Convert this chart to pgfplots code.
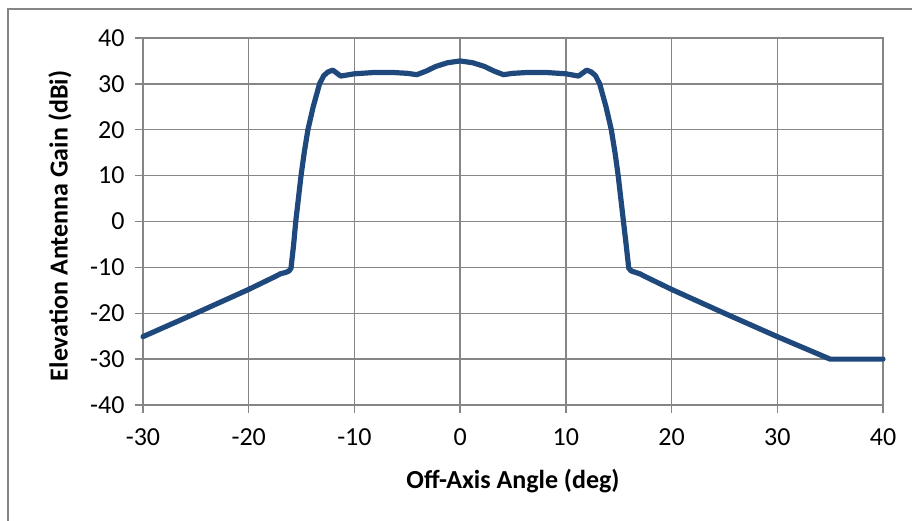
\documentclass[border=0pt]{standalone}
\usepackage{pgfplots}
\pgfplotsset{compat=1.18}
\usepackage{fontspec}
\setmainfont{Carlito}
\definecolor{gridgray}{RGB}{134,134,134}
\definecolor{lineblue}{RGB}{31,73,125}
\begin{document}
\begin{tikzpicture}[x=1pt,y=1pt]
\path[use as bounding box] (-143,-116) rectangle (769,405);
\draw[gridgray, line width=1.2pt] (-135,-116) -- (-135,396) -- (769,396);
\begin{axis}[at={(0,0)}, anchor=south west, scale only axis,
  width=740pt, height=367pt,
  xmin=-30, xmax=40, ymin=-40, ymax=40,
  xtick={-30,-20,...,40}, ytick={-40,-30,...,40},
  grid=major, grid style={gridgray, line width=1.3pt},
  axis line style={gridgray, line width=1.3pt},
  tick style={gridgray, line width=1.3pt},
  tick pos=left, tick align=outside, major tick length=8pt,
  /pgf/number format/assume math mode=true,
  tick label style={font=\fontsize{26}{30}\selectfont, text=black},
  xticklabel style={yshift=-12pt},
  yticklabel style={xshift=-7pt},
  clip=false]
\addplot[lineblue, line width=5.2pt, line join=round, line cap=round] coordinates {
(-30,-25.1) (-25,-20.0) (-20,-14.8) (-17.5,-12.0) (-17,-11.4) (-16.5,-11.1) (-16.2,-10.8) (-16.0,-10.2)
(-15.75,-5) (-15.55,0) (-15.3,5) (-15.05,10) (-14.75,15) (-14.4,20) (-13.9,25) (-13.3,30) (-12.9,31.8) (-12.5,32.6) (-12.05,33.0)
(-11.3,31.7) (-10,32.2) (-8,32.5) (-6.5,32.5) (-5,32.3) (-4.1,32.0) (-3.2,32.8) (-2.3,33.8) (-1.2,34.6) (0,35.0)
(1.2,34.6) (2.3,33.8) (3.2,32.8) (4.1,32.0) (5,32.3) (6.5,32.5) (8,32.5) (10,32.2) (11.2,31.7)
(11.97,33.0) (12.4,32.6) (12.8,31.8) (13.2,30) (13.8,25) (14.3,20) (14.65,15) (14.95,10) (15.2,5) (15.45,0) (15.7,-5) (15.95,-10.2)
(16.2,-10.8) (16.6,-11.1) (17,-11.4) (17.5,-12.0) (20,-14.8) (25,-20.0) (30,-25.1) (35,-30.0) (40,-30.0)
};
\end{axis}
\node[font=\fontsize{26}{30}\selectfont\bfseries, rotate=90] at (-83,179) {Elevation Antenna Gain (dBi)};
\node[font=\fontsize{26}{30}\selectfont\bfseries] at (370,-76) {Off-Axis Angle (deg)};
\end{tikzpicture}
\end{document}
